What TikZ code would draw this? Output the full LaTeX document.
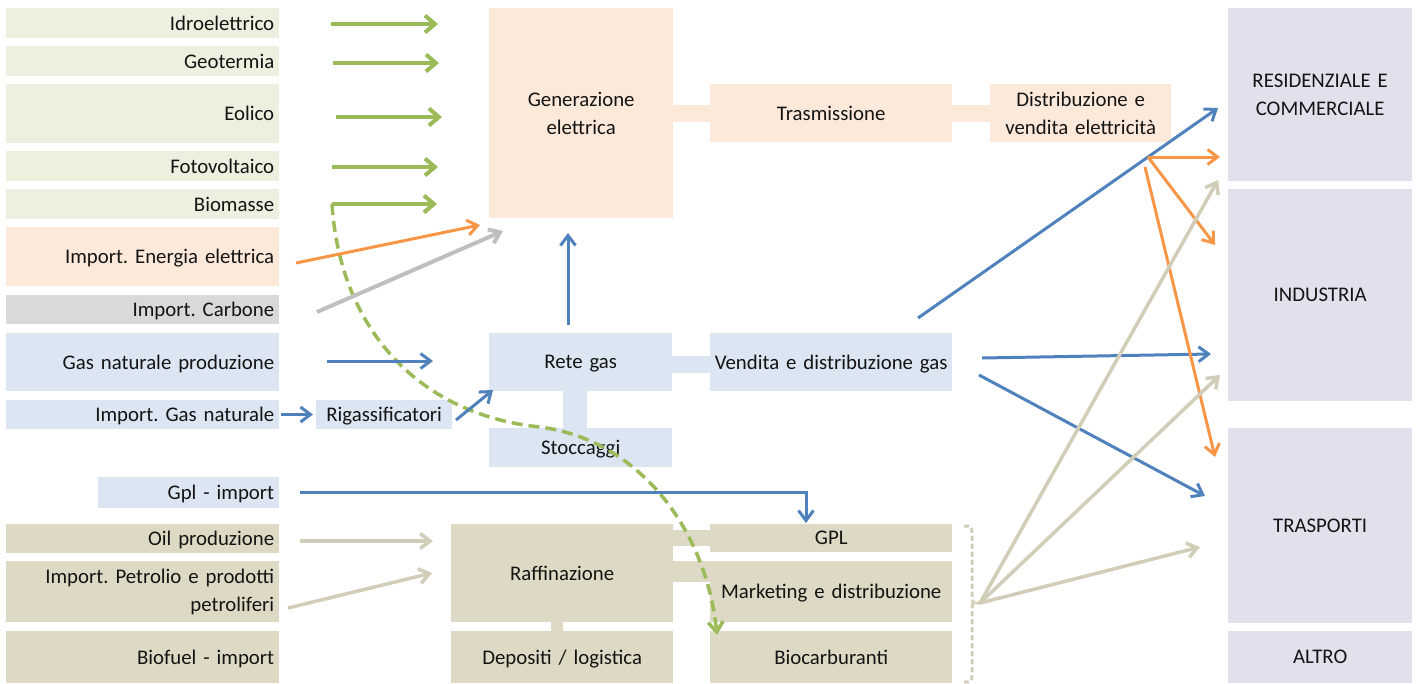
\documentclass[tikz,border=0pt]{standalone}
\usepackage{fontspec}
\setmainfont{Carlito}
\frenchspacing
\usetikzlibrary{arrows.meta,calc}
\definecolor{grP}{HTML}{EBF1DE}
\definecolor{grA}{HTML}{9BBB59}
\definecolor{orP}{HTML}{FDE9D9}
\definecolor{orA}{HTML}{F79646}
\definecolor{gyP}{HTML}{D9D9D9}
\definecolor{gyA}{HTML}{BFBFBF}
\definecolor{blP}{HTML}{DCE6F2}
\definecolor{blA}{HTML}{4F81BD}
\definecolor{tnP}{HTML}{DDD9C4}
\definecolor{tnA}{HTML}{D2CDB8}
\definecolor{lvP}{HTML}{E4DFEC}
\definecolor{txt}{HTML}{141414}
\begin{document}
\begin{tikzpicture}[x=1pt,y=-1pt,
  bx/.style={inner ysep=0pt, anchor=west, font=\fontsize{20.8}{28}\selectfont, text=txt},
  lbox/.style={bx, inner xsep=5pt, text width=263pt, align=right},
  cbox/.style={bx, inner xsep=2pt, align=center},
  sline/.style={text depth=0pt},
  band/.style={line width=#1},
  tipA/.style={-{Straight Barb[length=10pt,width=15pt]}},
  garr/.style={draw=grA, line width=4pt, -{Straight Barb[length=10pt,width=17pt]}},
  barr/.style={draw=blA, line width=3pt, tipA},
  oarr/.style={draw=orA, line width=3pt, tipA},
  yarr/.style={draw=gyA, line width=4pt, tipA},
  tarr/.style={draw=tnA, line width=3.5pt, tipA},
  gdash/.style={draw=grA, line width=3.5pt, dash pattern=on 11pt off 6pt, -{Straight Barb[length=10pt,width=15pt]}},
  tdash/.style={draw=tnA, line width=3pt, dash pattern=on 5pt off 3pt}
]
\useasboundingbox (0,0) rectangle (1422,683);

% left column
\node[lbox, sline, fill=grP, minimum height=30pt] (idro) at (6,23) {Idroelettrico};
\node[lbox, sline, fill=grP, minimum height=30pt] (geo) at (6,61) {Geotermia};
\node[lbox, sline, fill=grP, minimum height=59pt] (eol) at (6,113.5) {Eolico};
\node[lbox, sline, fill=grP, minimum height=30pt] (foto) at (6,166) {Fotovoltaico};
\node[lbox, sline, fill=grP, minimum height=30pt] (bio) at (6,204) {Biomasse};
\node[lbox, sline, fill=orP, minimum height=59pt] (impel) at (6,256.5) {Import. Energia elettrica};
\node[lbox, sline, fill=gyP, minimum height=29pt] (carb) at (6,309.5) {Import. Carbone};
\node[lbox, sline, fill=blP, minimum height=58pt] (gasprod) at (6,362) {Gas naturale produzione};
\node[lbox, sline, fill=blP, minimum height=29pt] (impgas) at (6,414.5) {Import. Gas naturale};
\node[lbox, sline, fill=blP, minimum height=31pt, text width=171pt] (gplimp) at (98,492.5) {Gpl - import};
\node[lbox, sline, fill=tnP, minimum height=29pt] (oilprod) at (6,538.5) {Oil produzione};
\node[lbox, fill=tnP, minimum height=61pt] (imppetr) at (6,591.5) {Import. Petrolio e prodotti\\petroliferi};
\node[lbox, sline, fill=tnP, minimum height=52pt] (biofuel) at (6,657) {Biofuel - import};

% middle
\node[cbox, sline, fill=blP, minimum height=29pt, text width=132pt] (rig) at (316,414.5) {Rigassificatori};
\node[cbox, fill=orP, minimum height=210pt, text width=180pt] (gen) at (489,113) {Generazione\\elettrica};
\node[cbox, sline, fill=orP, minimum height=58pt, text width=238pt] (tras) at (710,113) {Trasmissione};
\node[cbox, fill=orP, minimum height=58pt, text width=177pt] (distr) at (990,113) {Distribuzione e\\vendita elettricità};
\node[cbox, sline, fill=blP, minimum height=58pt, text width=179pt] (rete) at (489,362) {Rete gas};
\node[cbox, sline, fill=blP, minimum height=58pt, text width=238pt] (vend) at (710,362) {Vendita e distribuzione gas};
\node[cbox, sline, fill=blP, minimum height=39pt, text width=179pt] (stocc) at (489,447.5) {Stoccaggi};
\node[cbox, sline, fill=tnP, minimum height=98pt, text width=218pt] (raff) at (451,573) {Raffinazione};
\node[cbox, sline, fill=tnP, minimum height=52pt, text width=218pt] (dep) at (451,657) {Depositi / logistica};
\node[cbox, sline, fill=tnP, minimum height=28pt, text width=238pt] (gpl) at (710,538) {GPL};
\node[cbox, sline, fill=tnP, minimum height=61pt, text width=238pt] (mkt) at (710,591.5) {Marketing e distribuzione};
\node[cbox, sline, fill=tnP, minimum height=52pt, text width=238pt] (biocar) at (710,657) {Biocarburanti};

% right column
\node[cbox, fill=lvP, minimum height=173pt, text width=180pt] (res) at (1228,94.5) {RESIDENZIALE E\\COMMERCIALE};
\node[cbox, sline, fill=lvP, minimum height=212pt, text width=180pt] (ind) at (1228,295) {INDUSTRIA};
\node[cbox, sline, fill=lvP, minimum height=195pt, text width=180pt] (trasp) at (1228,525.5) {TRASPORTI};
\node[cbox, sline, fill=lvP, minimum height=52pt, text width=180pt] (altro) at (1228,657) {ALTRO};

% connecting bands
\draw[orP, band=17pt] (gen.east) -- (tras.west);
\draw[orP, band=17pt] (tras.east) -- (distr.west);
\draw[blP, band=17pt] ([yshift=-2.5pt]rete.east) -- ([yshift=-2.5pt]vend.west);
\draw[blP, band=24pt] ([xshift=-5.5pt]rete.south) -- ([xshift=-5.5pt]stocc.north);
\draw[tnP, band=16pt] (gpl.west -| raff.east) -- (gpl.west);
\draw[tnP, band=21pt] ([yshift=20pt]mkt.west -| raff.east) -- ([yshift=20pt]mkt.west);
\draw[tnP, band=12pt] ([xshift=-5pt]raff.south) -- ([xshift=-5pt]dep.north);

% coordinates for free arrow ends
\coordinate (g1a) at (331,24);  \coordinate (g1b) at (438,24);
\coordinate (g2a) at (333,63);  \coordinate (g2b) at (439,63);
\coordinate (g3a) at (336,117); \coordinate (g3b) at (442,117);
\coordinate (g4a) at (332,167); \coordinate (g4b) at (438,167);
\coordinate (g5a) at (332,204); \coordinate (g5b) at (437,204);
\coordinate (oa) at (296,263);  \coordinate (ob) at (480,225);
\coordinate (ca) at (317,312);  \coordinate (cb) at (503,231);
\coordinate (pa) at (327,361);  \coordinate (pb) at (433,361);
\coordinate (ra) at (456,420);  \coordinate (rb) at (493,390);
\coordinate (ua) at (568,325);  \coordinate (ub) at (568,233);
\coordinate (la) at (300,492);  \coordinate (lb) at (806,523);
\coordinate (va) at (918,318);  \coordinate (vb) at (1218,108);
\coordinate (wa) at (982,358);  \coordinate (wb) at (1211,354);
\coordinate (xa) at (979,375);  \coordinate (xb) at (1205,496);
\coordinate (e0) at (1148,157);
\coordinate (e1) at (1220,157);
\coordinate (e2) at (1215,245);
\coordinate (e3a) at (1145,167); \coordinate (e3) at (1215,457);
\coordinate (ta) at (300,541);  \coordinate (tb) at (433,541);
\coordinate (sa) at (288,608);  \coordinate (sb) at (432,573);
\coordinate (k0) at (980,603);
\coordinate (k1) at (1218,180);
\coordinate (k2) at (1220,375);
\coordinate (k3) at (1200,547);

% green arrows
\draw[garr] (g1a) -- (g1b);
\draw[garr] (g2a) -- (g2b);
\draw[garr] (g3a) -- (g3b);
\draw[garr] (g4a) -- (g4b);
\draw[garr] (g5a) -- (g5b);
\draw[gdash] (g5a) .. controls (340,330) and (420,415) .. (540,427)
  .. controls (640,440) and (706,530) .. ([yshift=-4pt]biocar.north west -| 717,0);

% imports to generation
\draw[oarr] (oa) -- (ob);
\draw[yarr] (ca) -- (cb);

% gas
\draw[barr] (pa) -- (pb);
\draw[barr, shorten <=2pt, shorten >=3pt] (impgas.east) -- (rig.west);
\draw[barr] (ra) -- (rb);
\draw[barr] (ua) -- (ub);
\draw[barr] (la) -| (lb);
\draw[barr] (va) -- (vb);
\draw[barr] (wa) -- (wb);
\draw[barr] (xa) -- (xb);

% electricity to uses
\draw[oarr] (e0) -- (e1);
\draw[oarr] (e0) -- (e2);
\draw[oarr] (e3a) -- (e3);

% oil
\draw[tarr] (ta) -- (tb);
\draw[tarr] (sa) -- (sb);
\draw[tdash] (964,526) .. controls (972,526) .. (972,536) -- (972,595)
  .. controls (972,603) .. (k0) .. controls (972,603) .. (972,611) -- (972,672)
  .. controls (972,682) .. (964,682);
\draw[tarr] (k0) -- (k1);
\draw[tarr] (k0) -- (k2);
\draw[tarr] (k0) -- (k3);
\end{tikzpicture}
\end{document}
